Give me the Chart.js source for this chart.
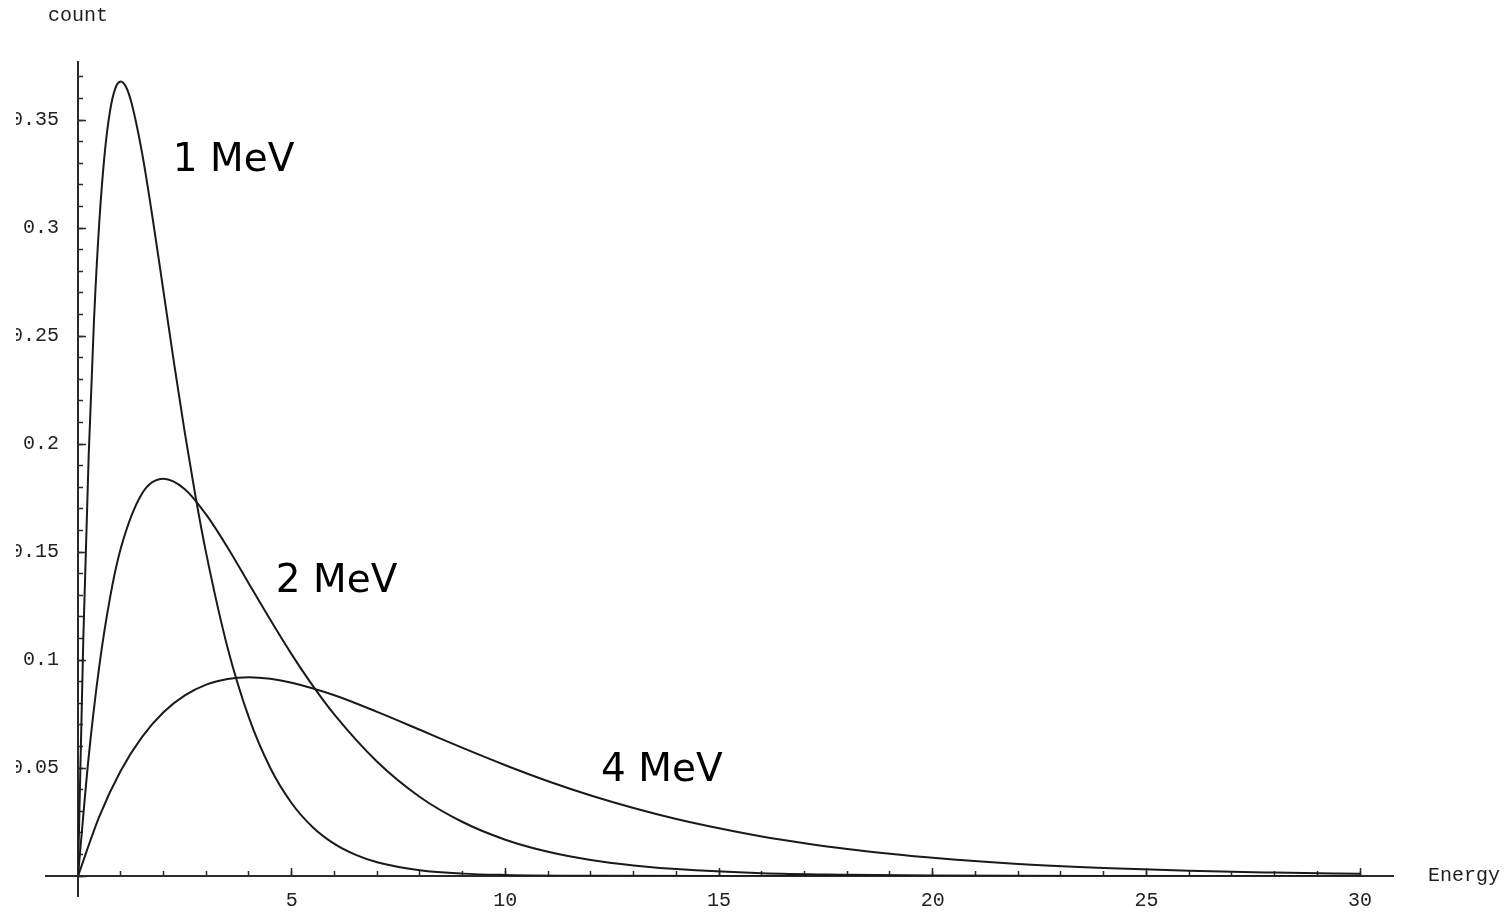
<!DOCTYPE html>
<html>
<head>
<meta charset="utf-8">
<script src="https://cdn.jsdelivr.net/npm/chart.js@4/dist/chart.umd.min.js"></script>
<style>
html, body { margin: 0; padding: 0; background: #ffffff; overflow: hidden; width: 1510px; height: 912px; }
#wrap { position: absolute; left: 16px; top: 0; width: 1494px; height: 912px; }
</style>
</head>
<body>
<div id="wrap"><canvas id="c"></canvas></div>
<script>
// ---- data ----
const energy1 = [0, 0.125, 0.25, 0.375, 0.5, 0.625, 0.75, 0.875, 1, 1.125, 1.25, 1.5, 1.75, 2, 2.25, 2.5, 2.75, 3, 3.5, 4, 4.5, 5, 5.5, 6, 6.5, 7, 8, 9, 10, 12, 15, 20, 30];
const count1  = [0, 0.1103, 0.1947, 0.2577, 0.3033, 0.3346, 0.3543, 0.3648, 0.3679, 0.3653, 0.3581, 0.3347, 0.3041, 0.2707, 0.2371, 0.2052, 0.1757, 0.1494, 0.1057, 0.0733, 0.0500, 0.0337, 0.0225, 0.0149, 0.0098, 0.0064, 0.0027, 0.0011, 0.0005, 0.0001, 0, 0, 0];

const energy2 = [0, 0.25, 0.5, 0.75, 1, 1.5, 2, 2.5, 3, 3.5, 4, 4.5, 5, 5.5, 6, 7, 8, 9, 10, 11, 12, 13, 14, 16, 18, 20, 25, 30];
const count2  = [0, 0.0552, 0.0974, 0.1289, 0.1516, 0.1771, 0.1839, 0.1791, 0.1673, 0.1521, 0.1353, 0.1186, 0.1026, 0.0879, 0.0747, 0.0529, 0.0366, 0.0250, 0.0168, 0.0112, 0.0074, 0.0049, 0.0032, 0.0013, 0.0006, 0.0002, 0, 0];

const energy4 = [0, 0.5, 1, 1.5, 2, 2.5, 3, 3.5, 4, 4.5, 5, 6, 7, 8, 9, 10, 11, 12, 13, 14, 15, 16, 17, 18, 19, 20, 22, 24, 26, 28, 30];
const count4  = [0, 0.0276, 0.0487, 0.0644, 0.0758, 0.0836, 0.0886, 0.0912, 0.0920, 0.0913, 0.0895, 0.0837, 0.0760, 0.0677, 0.0593, 0.0513, 0.0439, 0.0373, 0.0315, 0.0264, 0.0221, 0.0183, 0.0152, 0.0125, 0.0103, 0.0084, 0.0056, 0.0037, 0.0024, 0.0016, 0.0010];

// tick values and labels
const xMajorTicks = [0, 5, 10, 15, 20, 25, 30];
const xMajorLabels = ['', '5', '10', '15', '20', '25', '30'];
const xMinorTicks = [0, 1, 2, 3, 4, 5, 6, 7, 8, 9, 10, 11, 12, 13, 14, 15, 16, 17, 18, 19, 20, 21, 22, 23, 24, 25, 26, 27, 28, 29, 30];
const yMajorTicks = [0, 0.05, 0.1, 0.15, 0.2, 0.25, 0.3, 0.35];
const yMajorLabels = ['', '0.05', '0.1', '0.15', '0.2', '0.25', '0.3', '0.35'];
const yMinorTicks = [0, 0.01, 0.02, 0.03, 0.04, 0.05, 0.06, 0.07, 0.08, 0.09, 0.1, 0.11, 0.12, 0.13, 0.14, 0.15, 0.16, 0.17, 0.18, 0.19, 0.2, 0.21, 0.22, 0.23, 0.24, 0.25, 0.26, 0.27, 0.28, 0.29, 0.3, 0.31, 0.32, 0.33, 0.34, 0.35, 0.36, 0.37];

const curveLabels = ['1 MeV', '2 MeV', '4 MeV'];
const curveLabelEnergy = [2.22, 4.63, 12.24];
const curveLabelCount = [0.3264, 0.1315, 0.0440];

const xAxisTitle = 'Energy';
const yAxisTitle = 'count';

// ---- chart ----
const toPoints = (xs, ys) => xs.map((x, i) => ({ x: x, y: ys[i] }));
const lineStyle = { borderColor: '#1a1a1a', borderWidth: 2, pointRadius: 0, fill: false, cubicInterpolationMode: 'monotone', borderJoinStyle: 'round' };
const AXIS_COLOR = '#2a2a2a';
const tickFont = { family: '"Liberation Mono", "DejaVu Sans Mono", monospace', size: 20 };

const setTicks = (values) => (scale) => { scale.ticks = values.map(v => ({ value: v })); };
const labelFrom = (values, labels) => (v) => {
  const i = values.findIndex(t => Math.abs(t - v) < 1e-9);
  return i >= 0 ? labels[i] : '';
};
const fitTo = (size) => (s) => {
  if (s.isHorizontal()) { s.height = size; } else { s.width = size; }
  s.paddingTop = 0; s.paddingBottom = 0; s.paddingLeft = 0; s.paddingRight = 0;
};

const decorPlugin = {
  id: 'decor',
  beforeDatasetsDraw(chart) {
    // short axis extensions beyond the origin, as in the original plot
    const ctx = chart.ctx;
    const xs = chart.scales.x, ys = chart.scales.y;
    const ox = xs.getPixelForValue(0), oy = ys.getPixelForValue(0);
    ctx.save();
    ctx.strokeStyle = AXIS_COLOR;
    ctx.lineWidth = 2;
    ctx.beginPath();
    ctx.moveTo(ox - 33, oy); ctx.lineTo(ox, oy);
    ctx.moveTo(ox, oy); ctx.lineTo(ox, oy + 21);
    ctx.stroke();
    ctx.restore();
  },
  afterDraw(chart) {
    const ctx = chart.ctx;
    const xs = chart.scales.x, ys = chart.scales.y;
    ctx.save();
    ctx.fillStyle = '#1e1e1e';
    ctx.font = '20px "Liberation Mono", "DejaVu Sans Mono", monospace';
    ctx.textBaseline = 'middle';
    ctx.textAlign = 'left';
    ctx.fillText(yAxisTitle, xs.getPixelForValue(0) - 30, 16);
    ctx.fillText(xAxisTitle, xs.right + 35, ys.getPixelForValue(0));
    ctx.font = '39px "DejaVu Sans", sans-serif';
    ctx.textBaseline = 'alphabetic';
    ctx.fillStyle = '#000000';
    curveLabels.forEach((t, i) => {
      ctx.fillText(t, xs.getPixelForValue(curveLabelEnergy[i]), ys.getPixelForValue(curveLabelCount[i]));
    });
    ctx.restore();
  }
};

new Chart(document.getElementById('c'), {
  type: 'line',
  data: {
    datasets: [
      Object.assign({ label: curveLabels[0], data: toPoints(energy1, count1) }, lineStyle),
      Object.assign({ label: curveLabels[1], data: toPoints(energy2, count2) }, lineStyle),
      Object.assign({ label: curveLabels[2], data: toPoints(energy4, count4) }, lineStyle)
    ]
  },
  options: {
    responsive: true,
    maintainAspectRatio: false,
    devicePixelRatio: 1,
    animation: false,
    events: [],
    layout: { padding: { left: 0, right: 117, top: 62, bottom: 0 } },
    plugins: { legend: { display: false }, tooltip: { enabled: false }, title: { display: false } },
    scales: {
      x: {
        type: 'linear', axis: 'x', position: 'bottom', weight: 10, bounds: 'data', min: 0, max: 30.77,
        border: { display: true, color: AXIS_COLOR, width: 2 },
        grid: { drawOnChartArea: false, drawTicks: true, tickLength: -8, tickColor: AXIS_COLOR, tickWidth: 1.5 },
        ticks: { autoSkip: false, maxRotation: 0, padding: 21, color: '#222', font: tickFont, callback: labelFrom(xMajorTicks, xMajorLabels) },
        afterBuildTicks: setTicks(xMajorTicks),
        afterFit: fitTo(36)
      },
      x2: {
        type: 'linear', axis: 'x', position: 'bottom', weight: 0, bounds: 'data', min: 0, max: 30.77,
        border: { display: true, color: AXIS_COLOR, width: 2 },
        grid: { drawOnChartArea: false, drawTicks: true, tickLength: -5, tickColor: AXIS_COLOR, tickWidth: 1.5 },
        ticks: { autoSkip: false, maxRotation: 0, padding: 0, callback: () => '' },
        afterBuildTicks: setTicks(xMinorTicks),
        afterFit: fitTo(0)
      },
      y: {
        type: 'linear', axis: 'y', position: 'left', weight: 10, bounds: 'data', min: 0, max: 0.3769,
        border: { display: true, color: AXIS_COLOR, width: 2 },
        grid: { drawOnChartArea: false, drawTicks: true, tickLength: -8, tickColor: AXIS_COLOR, tickWidth: 1.5 },
        ticks: { autoSkip: false, padding: 27, color: '#222', font: tickFont, callback: labelFrom(yMajorTicks, yMajorLabels) },
        afterBuildTicks: setTicks(yMajorTicks),
        afterFit: fitTo(62)
      },
      y2: {
        type: 'linear', axis: 'y', position: 'left', weight: 0, bounds: 'data', min: 0, max: 0.3769,
        border: { display: true, color: AXIS_COLOR, width: 2 },
        grid: { drawOnChartArea: false, drawTicks: true, tickLength: -5, tickColor: AXIS_COLOR, tickWidth: 1.5 },
        ticks: { autoSkip: false, padding: 0, callback: () => '' },
        afterBuildTicks: setTicks(yMinorTicks),
        afterFit: fitTo(0)
      }
    }
  },
  plugins: [decorPlugin]
});
</script>
</body>
</html>
